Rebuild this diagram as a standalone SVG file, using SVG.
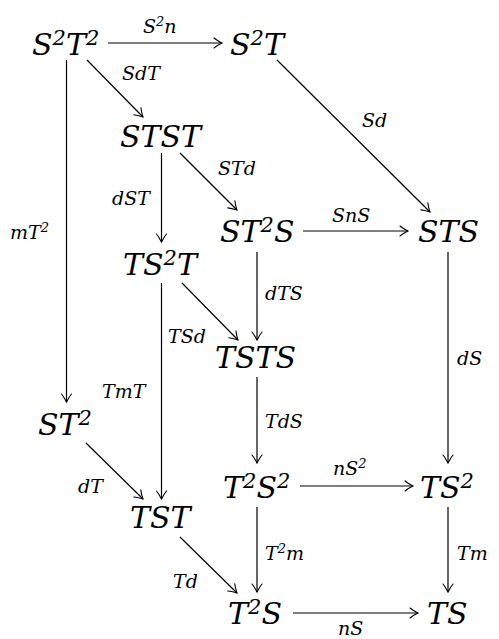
<svg xmlns="http://www.w3.org/2000/svg" width="499" height="639" viewBox="0 0 499 639">
<style>
.n{font-family:'DejaVu Serif',serif;font-style:italic;font-size:30px;fill:#000}
.l{font-family:'DejaVu Serif',serif;font-style:italic;font-size:19px;fill:#000}
.a{fill:none;stroke:#000;stroke-width:1.2;marker-end:url(#ah)}
</style>
<defs>
<marker id="ah" markerUnits="userSpaceOnUse" viewBox="-10 -6 12 12" markerWidth="12" markerHeight="12" refX="0" refY="0" orient="auto" overflow="visible">
<path d="M -8,-5 C -5,-2.5 -1.5,-0.8 0,0 C -1.5,0.8 -5,2.5 -8,5" fill="none" stroke="#000" stroke-width="1.1" stroke-linecap="round"/>
</marker>
</defs>
<rect width="499" height="639" fill="#fff"/>
<g id="connectors">
<path class="a" d="M108,43 H222"/>
<path class="a" d="M87,60 L143,117"/>
<path class="a" d="M66.5,60 V402"/>
<path class="a" d="M277,60 L430,212"/>
<path class="a" d="M161.5,153 V242"/>
<path class="a" d="M180,153 L237,210"/>
<path class="a" d="M303,231 H408"/>
<path class="a" d="M257,252 V340"/>
<path class="a" d="M448,252 V463"/>
<path class="a" d="M182,283 L238,340"/>
<path class="a" d="M161.5,283 V499"/>
<path class="a" d="M257,377 V463"/>
<path class="a" d="M86,443 L143,499"/>
<path class="a" d="M300,486 H413"/>
<path class="a" d="M257,507 V592"/>
<path class="a" d="M448,507 V592"/>
<path class="a" d="M180,537 L237,593"/>
<path class="a" d="M293,613 H418"/>
<text class="l" x="143" y="33">S<tspan font-size="13" dy="-7">2</tspan><tspan dy="7">n</tspan></text>
<text class="l" x="122" y="80">SdT</text>
<text class="l" x="10" y="239">mT<tspan font-size="13" dy="-7">2</tspan></text>
<text class="l" x="362" y="127">Sd</text>
<text class="l" x="112" y="205">dST</text>
<text class="l" x="218" y="175">STd</text>
<text class="l" x="332" y="222">SnS</text>
<text class="l" x="265" y="300">dTS</text>
<text class="l" x="457" y="365">dS</text>
<text class="l" x="168" y="343">TSd</text>
<text class="l" x="102" y="398">TmT</text>
<text class="l" x="265" y="428">TdS</text>
<text class="l" x="78" y="493">dT</text>
<text class="l" x="333" y="475">nS<tspan font-size="13" dy="-7">2</tspan></text>
<text class="l" x="265" y="560">T<tspan font-size="13" dy="-7">2</tspan><tspan dy="7">m</tspan></text>
<text class="l" x="457" y="560">Tm</text>
<text class="l" x="173" y="588">Td</text>
<text class="l" x="338" y="635">nS</text>
</g>
<g id="n-S2T2"><text class="n" x="32" y="55">S<tspan font-size="21" dy="-10">2</tspan><tspan dy="10">T</tspan><tspan font-size="21" dy="-10">2</tspan></text></g>
<g id="n-S2T"><text class="n" x="230" y="55">S<tspan font-size="21" dy="-10">2</tspan><tspan dy="10">T</tspan></text></g>
<g id="n-STST"><text class="n" x="120" y="147">STST</text></g>
<g id="n-ST2S"><text class="n" x="220" y="242">ST<tspan font-size="21" dy="-10">2</tspan><tspan dy="10">S</tspan></text></g>
<g id="n-STS"><text class="n" x="418" y="242">STS</text></g>
<g id="n-TS2T"><text class="n" x="123" y="275">TS<tspan font-size="21" dy="-10">2</tspan><tspan dy="10">T</tspan></text></g>
<g id="n-TSTS"><text class="n" x="215" y="368">TSTS</text></g>
<g id="n-ST2"><text class="n" x="38" y="435">ST<tspan font-size="21" dy="-10">2</tspan></text></g>
<g id="n-TST"><text class="n" x="130" y="528">TST</text></g>
<g id="n-T2S2"><text class="n" x="223" y="498">T<tspan font-size="21" dy="-10">2</tspan><tspan dy="10">S</tspan><tspan font-size="21" dy="-10">2</tspan></text></g>
<g id="n-TS2"><text class="n" x="420" y="498">TS<tspan font-size="21" dy="-10">2</tspan></text></g>
<g id="n-T2S"><text class="n" x="228" y="624">T<tspan font-size="21" dy="-10">2</tspan><tspan dy="10">S</tspan></text></g>
<g id="n-TS"><text class="n" x="427" y="624">TS</text></g>
</svg>
